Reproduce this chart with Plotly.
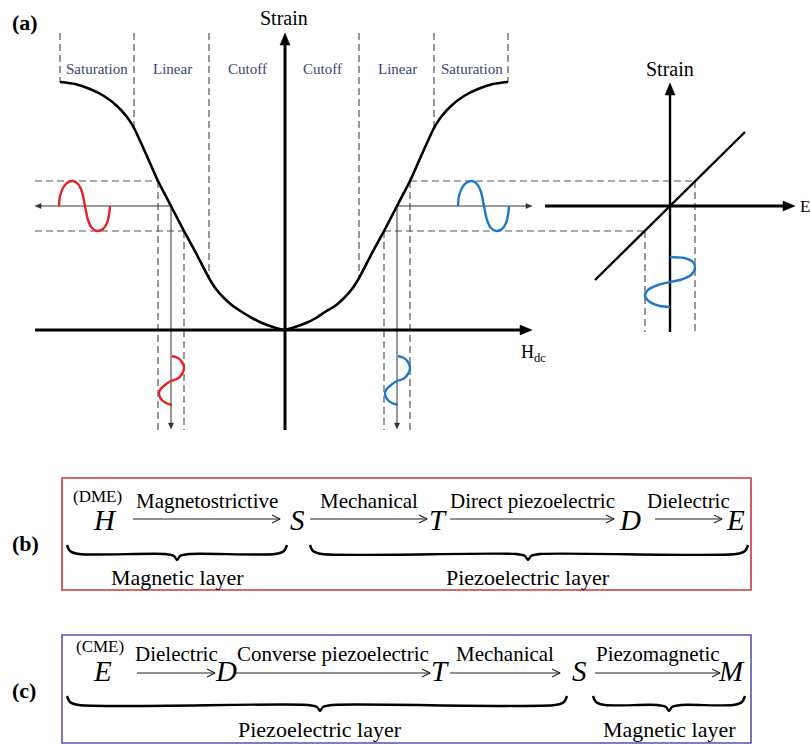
import plotly.graph_objects as go

W, H = 810, 744
SERIF = "Times New Roman"

# ---------------- (a) data (pixel space) ----------------
curve_x = [60, 75, 90, 104, 117, 127, 134, 146, 158, 171, 184, 197, 209, 216, 224, 233,
           242, 252, 262, 273, 284, 295, 306, 316, 325, 335, 344, 352, 359, 371, 384,
           397, 410, 422, 434, 441, 451, 464, 478, 493, 508]
curve_y = [82, 84, 89, 96, 106, 117, 128, 154, 181, 206, 231, 255, 278, 289, 298, 306,
           312, 318, 323, 327, 330, 327, 323, 318, 312, 306, 298, 289, 278, 255, 231,
           206, 181, 154, 128, 117, 106, 96, 89, 84, 82]

region_names = ["Saturation", "Linear", "Cutoff", "Cutoff", "Linear", "Saturation"]
region_cx = [97, 172, 247, 322, 397, 472]
region_lines_x = [60, 134, 209, 359, 434, 508]
region_lines_end = [82, 128, 278, 278, 128, 82]

red_h_x = [59, 60, 63, 67, 73, 78, 82, 85, 88, 92, 97, 103, 107, 109, 110]
red_h_y = [206, 196, 188, 183, 181, 184, 192, 206, 220, 228, 231, 229, 223, 215, 206]
blue_h_x = [458, 459, 462, 466, 472, 477, 481, 484, 487, 491, 496, 502, 506, 508, 509]
blue_h_y = [206, 196, 188, 183, 181, 184, 192, 206, 220, 228, 231, 229, 223, 215, 206]

red_v_x = [172, 178, 182, 184, 182, 177, 171, 165, 160, 159, 161, 166, 172]
red_v_y = [356, 358, 362, 368, 374, 379, 381, 385, 390, 394, 399, 403, 405]
blue_v_x = [398, 404, 408, 410, 408, 403, 397, 391, 386, 385, 387, 392, 398]
blue_v_y = [356, 358, 362, 368, 374, 379, 381, 385, 390, 394, 399, 403, 405]

inset_wave_x = [670, 684, 693, 695, 691, 680, 670, 658, 648, 645, 650, 660, 670]
inset_wave_y = [257, 258, 262, 268, 275, 280, 282, 285, 290, 296, 302, 306, 307]

inset_line_x = [595, 745]
inset_line_y = [280, 132]

# ---------------- (b) / (c) chains ----------------
b_symbols = ["H", "S", "T", "D", "E"]
b_symbol_x = [105, 297, 438, 630, 735]
b_arrow_x0 = [133, 310, 450, 655]
b_arrow_x1 = [280, 427, 614, 722]
b_labels = ["Magnetostrictive", "Mechanical", "Direct piezoelectric", "Dielectric"]
b_layers = ["Magnetic layer", "Piezoelectric layer"]
b_brace = [(67, 287, 177), (310, 748, 528)]

c_symbols = ["E", "D", "T", "S", "M"]
c_symbol_x = [102, 226, 440, 579, 731]
c_arrow_x0 = [137, 235, 450, 595]
c_arrow_x1 = [215, 430, 560, 720]
c_labels = ["Dielectric", "Converse piezoelectric", "Mechanical", "Piezomagnetic"]
c_layers = ["Piezoelectric layer", "Magnetic layer"]
c_brace = [(67, 567, 320), (593, 745, 669)]

fig = go.Figure()
ann = []

def line(xs, ys, color="black", width=1.0, dash=None, shape="linear", smoothing=0.8):
    fig.add_trace(go.Scatter(x=xs, y=ys, mode="lines", hoverinfo="skip",
                             line=dict(color=color, width=width, dash=dash, shape=shape,
                                       smoothing=smoothing if shape == "spline" else None)))

def tri(tx, ty, dx, dy, length, half, color="black"):
    bx, by = tx - dx * length, ty - dy * length
    px, py = -dy * half, dx * half
    fig.add_trace(go.Scatter(x=[tx, bx + px, bx - px, tx], y=[ty, by + py, by - py, ty],
                             mode="lines", fill="toself", fillcolor=color, hoverinfo="skip",
                             line=dict(color=color, width=0.5)))

def texarrow(x0, x1, y):
    line([x0, x1], [y, y], "#222", 1.1)
    line([x1 - 8, x1 - 3, x1, x1 - 3, x1 - 8], [y - 4, y - 1.5, y, y + 1.5, y + 4], "#222", 1.1, shape="spline")

def brace(x0, x1, xm, y0):
    xs = [x0, x0 + 3, x0 + 12, xm - 12, xm - 3, xm, xm + 3, xm + 12, x1 - 12, x1 - 3, x1]
    ys = [y0, y0 + 6, y0 + 9, y0 + 9, y0 + 11, y0 + 15, y0 + 11, y0 + 9, y0 + 9, y0 + 6, y0]
    line(xs, ys, "black", 2.4, shape="spline")

def text(x, y, s, size, color="black", bold=False, italic=False, xanchor="center"):
    t = s
    if bold:
        t = "<b>" + t + "</b>"
    if italic:
        t = "<i>" + t + "</i>"
    ann.append(dict(x=x, y=y, xref="x", yref="y", text=t, showarrow=False,
                    xanchor=xanchor, yanchor="middle",
                    font=dict(family=SERIF, size=size, color=color)))

DASH = "7px,4px"
GRAY = "#555555"

for x, ye in zip(region_lines_x, region_lines_end):
    line([x, x], [33, ye], GRAY, 1.2, DASH)
for name, cx in zip(region_names, region_cx):
    text(cx, 69, name, 15, "#3a4478")

line([35, 158], [181, 181], GRAY, 1.2, DASH)
line([35, 184], [231, 231], GRAY, 1.2, DASH)
line([158, 158], [181, 430], GRAY, 1.2, DASH)
line([184, 184], [231, 430], GRAY, 1.2, DASH)
line([410, 695], [181, 181], GRAY, 1.2, DASH)
line([384, 645], [231, 231], GRAY, 1.2, DASH)
line([410, 410], [181, 430], GRAY, 1.2, DASH)
line([384, 384], [231, 430], GRAY, 1.2, DASH)
line([695, 695], [181, 332], GRAY, 1.2, DASH)
line([645, 645], [231, 332], GRAY, 1.2, DASH)

line([171, 40], [206, 206], "#333", 1.0)
tri(35, 206, -1, 0, 6, 2.5, "#333")
line([171, 171], [206, 424], "#333", 1.0)
tri(171, 429, 0, 1, 6, 2.5, "#333")
line([397, 527], [206, 206], "#333", 1.0)
tri(532, 206, 1, 0, 6, 2.5, "#333")
line([397, 397], [206, 424], "#333", 1.0)
tri(397, 429, 0, 1, 6, 2.5, "#333")

line([285, 285], [430, 44], "black", 3)
tri(285, 33, 0, -1, 12, 5)
line([35, 520], [330, 330], "black", 3)
tri(532, 330, 1, 0, 12, 5)

line(curve_x, curve_y, "black", 2.6, shape="spline", smoothing=0.6)

line(red_h_x, red_h_y, "#e42228", 2.4, shape="spline")
line(red_v_x, red_v_y, "#e42228", 2.4, shape="spline")
line(blue_h_x, blue_h_y, "#1f78c8", 2.4, shape="spline")
line(blue_v_x, blue_v_y, "#1f78c8", 2.4, shape="spline")

line([545, 784], [206, 206], "black", 3)
tri(795, 206, 1, 0, 12, 5)
line([670, 670], [332, 95], "black", 2.4)
tri(670, 83, 0, -1, 12, 5)
line(inset_line_x, inset_line_y, "black", 2.4)
line(inset_wave_x, inset_wave_y, "#1f78c8", 2.4, shape="spline")

text(284, 18, "Strain", 20)
text(670, 69, "Strain", 20)
text(798, 206, "E", 17, xanchor="left")
text(519, 353, "H<sub>dc</sub>", 18, xanchor="left")
text(10, 22, "(a)", 22, bold=True, xanchor="left")

# ---------------- (b) ----------------
fig.add_shape(type="rect", x0=62, x1=751, y0=478, y1=590, xref="x", yref="y",
              line=dict(color="#c8383c", width=1.6))
text(97, 496, "(DME)", 17)
for s, x in zip(b_symbols, b_symbol_x):
    text(x, 520, s, 29, italic=True)
for x0, x1, lab in zip(b_arrow_x0, b_arrow_x1, b_labels):
    texarrow(x0, x1, 519)
    text((x0 + x1) / 2, 501, lab, 21)
for (x0, x1, xm), lab in zip(b_brace, b_layers):
    brace(x0, x1, xm, 545)
    text(xm, 577, lab, 22)
text(10, 543, "(b)", 22, bold=True, xanchor="left")

# ---------------- (c) ----------------
fig.add_shape(type="rect", x0=62, x1=751, y0=635, y1=743, xref="x", yref="y",
              line=dict(color="#5454b4", width=1.6))
text(100, 646, "(CME)", 17)
for s, x in zip(c_symbols, c_symbol_x):
    text(x, 671, s, 29, italic=True)
for x0, x1, lab in zip(c_arrow_x0, c_arrow_x1, c_labels):
    texarrow(x0, x1, 673)
    text((x0 + x1) / 2, 654, lab, 21)
for (x0, x1, xm), lab in zip(c_brace, c_layers):
    brace(x0, x1, xm, 696)
    text(xm, 729, lab, 22)
text(10, 690, "(c)", 22, bold=True, xanchor="left")

fig.update_layout(
    width=W, height=H, margin=dict(l=0, r=0, t=0, b=0),
    paper_bgcolor="white", plot_bgcolor="white", showlegend=False,
    xaxis=dict(range=[0, W], visible=False, fixedrange=True),
    yaxis=dict(range=[H, 0], visible=False, fixedrange=True),
    annotations=ann,
)
fig.write_html("out.html")
